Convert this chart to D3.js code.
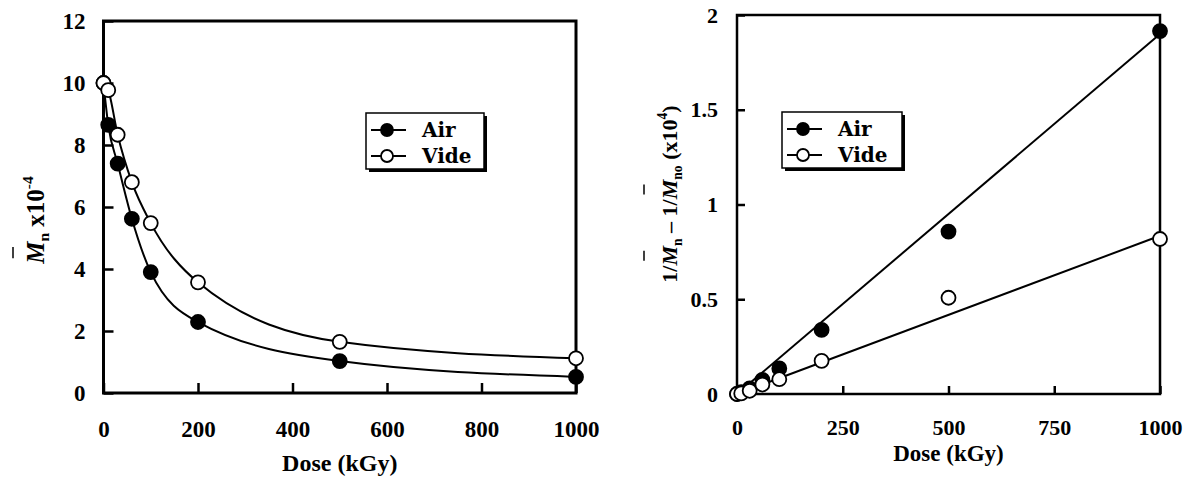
<!DOCTYPE html>
<html>
<head>
<meta charset="utf-8">
<script src="https://cdn.jsdelivr.net/npm/d3@7"></script>
<style>
  body { margin: 0; background: #fff; }
  svg { display: block; }
  .tick text { font-family: "Liberation Serif", "Times New Roman", serif; font-weight: bold; fill: #000; }
</style>
</head>
<body>
<svg id="chart" width="1185" height="479"></svg>
<script>
// ---- data ----
const doses = [0, 10, 30, 60, 100, 200, 500, 1000];
// left panel: Mn x10^-4
const mnAir  = [10.0, 8.65, 7.4, 5.62, 3.9, 2.29, 1.03, 0.52];
const mnVide = [10.0, 9.77, 8.33, 6.8, 5.48, 3.57, 1.65, 1.12];
// right panel: 1/Mn - 1/Mno (x10^4)
const invAir  = [0, 0.01, 0.03, 0.075, 0.135, 0.338, 0.857, 1.915];
const invVide = [0, 0.003, 0.017, 0.05, 0.078, 0.175, 0.508, 0.818];
// straight fits on the right panel (ends of the lines)
const fitDose = [0, 1000];
const fitAir  = [0, 1.9];
const fitVide = [0, 0.835];
// ticks
const leftXTicks  = [0, 200, 400, 600, 800, 1000];
const leftYTicks  = [0, 2, 4, 6, 8, 10, 12];
const rightXTicks = [0, 250, 500, 750, 1000];
const rightYTicks = [0, 0.5, 1, 1.5, 2];
const seriesNames = ["Air", "Vide"];

const svg = d3.select("#chart");
const serif = '"Liberation Serif", "Times New Roman", serif';

function drawPanel(p) {
  const x = d3.scaleLinear().domain([0, 1000]).range([p.left, p.right]);
  const y = d3.scaleLinear().domain(p.yDomain).range([p.bottom, p.top]);
  const g = svg.append("g");

  // axes with inward ticks
  const xa = g.append("g")
    .attr("transform", `translate(0,${p.bottom})`)
    .call(d3.axisBottom(x).tickValues(p.xTicks).tickSize(-p.tick).tickSizeOuter(0).tickPadding(p.xPad)
      .tickFormat(d3.format("d")));
  const ya = g.append("g")
    .attr("transform", `translate(${p.left},0)`)
    .call(d3.axisLeft(y).tickValues(p.yTicks).tickSize(-p.tick).tickSizeOuter(0).tickPadding(p.yPad)
      .tickFormat(d3.format("~g")));
  [xa, ya].forEach(a => {
    a.select(".domain").remove();
    a.selectAll(".tick line").attr("stroke", "#000").attr("stroke-width", 2.5);
    a.selectAll(".tick text").style("font-size", p.tickFont + "px");
  });

  // frame
  g.append("rect")
    .attr("x", p.left).attr("y", p.top)
    .attr("width", p.right - p.left).attr("height", p.bottom - p.top)
    .attr("fill", "none").attr("stroke", "#000").attr("stroke-width", p.frameW);

  // lines
  if (p.curves) {
    const line = d3.line().x(d => x(d[0])).y(d => y(d[1])).curve(d3.curveMonotoneX);
    p.series.forEach(s => {
      g.append("path").datum(doses.map((d, i) => [d, s.values[i]]))
        .attr("d", line).attr("fill", "none").attr("stroke", "#000").attr("stroke-width", 2);
    });
  }
  if (p.fits) {
    const line = d3.line().x(d => x(d[0])).y(d => y(d[1]));
    p.fits.forEach(f => {
      g.append("path").datum(fitDose.map((d, i) => [d, f[i]]))
        .attr("d", line).attr("fill", "none").attr("stroke", "#000").attr("stroke-width", 2);
    });
  }

  // markers (filled first, open on top)
  p.series.forEach(s => {
    g.append("g").selectAll("circle")
      .data(doses.map((d, i) => [d, s.values[i]]))
      .join("circle")
      .attr("cx", d => x(d[0])).attr("cy", d => y(d[1]))
      .attr("r", p.r)
      .attr("fill", s.filled ? "#000" : "#fff")
      .attr("stroke", "#000").attr("stroke-width", 1.8);
  });

  // x title
  g.append("text")
    .attr("x", (p.left + p.right) / 2).attr("y", p.xTitleY)
    .attr("text-anchor", "middle")
    .style("font-family", serif).style("font-weight", "bold").style("font-size", p.titleFont + "px")
    .text("Dose (kGy)");

  // legend
  const lg = g.append("g").attr("transform", `translate(${p.legend[0]},${p.legend[1]})`);
  lg.append("rect").attr("x", 3).attr("y", 3).attr("width", p.legendW).attr("height", p.legendH).attr("fill", "#000");
  lg.append("rect").attr("width", p.legendW).attr("height", p.legendH)
    .attr("fill", "#fff").attr("stroke", "#000").attr("stroke-width", 1.5);
  p.series.forEach((s, i) => {
    const cy = 17 + i * 26;
    lg.append("line").attr("x1", 5).attr("x2", 40).attr("y1", cy).attr("y2", cy)
      .attr("stroke", "#000").attr("stroke-width", 2);
    lg.append("circle").attr("cx", 21).attr("cy", cy).attr("r", 6)
      .attr("fill", s.filled ? "#000" : "#fff").attr("stroke", "#000").attr("stroke-width", 1.8);
    lg.append("text").attr("x", 56).attr("y", cy + 7)
      .style("font-family", '"DejaVu Serif", serif').style("font-weight", "bold").style("font-size", "20px")
      .text(seriesNames[i]);
  });
  return g;
}

// rotated y title built from parts; bars over chars flagged with bar:true
function yTitle(cx, cy, size, parts, barGap) {
  const g = svg.append("g").attr("transform", `translate(${cx},${cy}) rotate(-90)`);
  const t = g.append("text").attr("text-anchor", "middle")
    .style("font-family", serif).style("font-weight", "bold").style("font-size", size + "px");
  let shift = 0;
  const bars = [];
  let idx = 0;
  parts.forEach(pt => {
    const target = pt.dy || 0;
    const ts = t.append("tspan").attr("dy", target - shift).text(pt.t);
    shift = target;
    if (pt.small) ts.style("font-size", (size * 0.62) + "px");
    if (pt.italic) ts.style("font-style", "italic");
    if (pt.bar) bars.push(idx);
    idx += pt.t.length;
  });
  const node = t.node();
  bars.forEach(i => {
    const a = node.getStartPositionOfChar(i), b = node.getEndPositionOfChar(i);
    const mid = (a.x + b.x) / 2, w = (b.x - a.x) * 0.5;
    g.append("line").attr("x1", mid - w / 2).attr("x2", mid + w / 2)
      .attr("y1", -barGap).attr("y2", -barGap).attr("stroke", "#000").attr("stroke-width", 1.5);
  });
}

drawPanel({
  left: 103.5, right: 576, top: 21, bottom: 393,
  yDomain: [0, 12], xTicks: leftXTicks, yTicks: leftYTicks,
  tick: 10, xPad: 28, yPad: 18, tickFont: 23, frameW: 3, r: 7,
  curves: true, titleFont: 24, xTitleY: 471,
  series: [{ values: mnAir, filled: true }, { values: mnVide, filled: false }],
  legend: [366, 113], legendW: 118, legendH: 56
});

drawPanel({
  left: 737, right: 1160, top: 15, bottom: 394,
  yDomain: [0, 2], xTicks: rightXTicks, yTicks: rightYTicks,
  tick: 8, xPad: 25, yPad: 19, tickFont: 22, frameW: 2.5, r: 7,
  curves: false, fits: [fitAir, fitVide], titleFont: 23, xTitleY: 461,
  series: [{ values: invAir, filled: true }, { values: invVide, filled: false }],
  legend: [782, 112], legendW: 120, legendH: 56
});

yTitle(44, 220, 25, [
  { t: "M", italic: true, bar: true },
  { t: "n", small: true, dy: 5 },
  { t: " x10" },
  { t: "-4", small: true, dy: -11 }
], 31);

yTitle(677, 194, 22, [
  { t: "1/" },
  { t: "M", italic: true, bar: true },
  { t: "n", small: true, dy: 5 },
  { t: " \u2013 1/" },
  { t: "M", italic: true, bar: true },
  { t: "no", small: true, dy: 5 },
  { t: " (x10" },
  { t: "4", small: true, dy: -10 },
  { t: ")" }
], 33);
</script>
</body>
</html>
